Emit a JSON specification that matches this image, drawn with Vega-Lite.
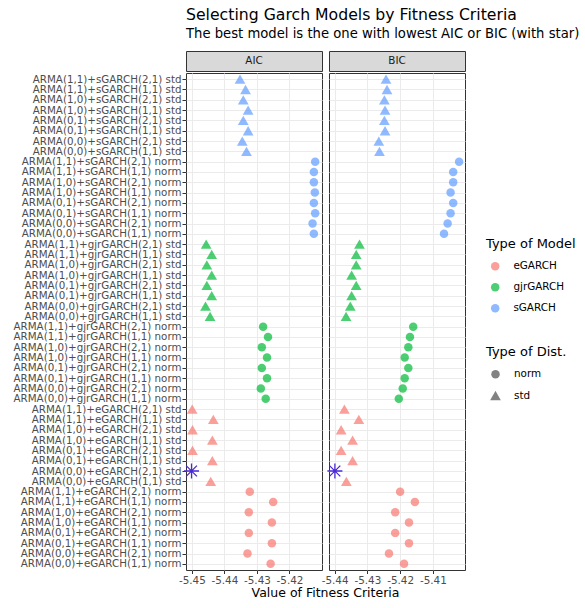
{
  "$schema": "https://vega.github.io/schema/vega-lite/v6.json",
  "padding": {"left": 12, "top": 6, "right": 5, "bottom": 5},
  "title": {
    "text": "Selecting Garch Models by Fitness Criteria",
    "subtitle": "The best model is the one with lowest AIC or BIC (with star)",
    "anchor": "start",
    "frame": "group",
    "font": "DejaVu Sans",
    "fontSize": 15.7,
    "fontWeight": "normal",
    "color": "#000000",
    "subtitleFont": "DejaVu Sans",
    "subtitleFontSize": 13.2,
    "subtitleColor": "#000000",
    "subtitlePadding": 5,
    "offset": 9
  },
  "datasets": {
    "strips": [{"c": "AIC"}, {"c": "BIC"}],
    "xtitle": [{"label": "Value of Fitness Criteria"}],
    "fit": [
      {"m": "ARMA(1,1)+sGARCH(2,1) std", "t": "sGARCH", "d": "std", "c": "AIC", "v": -5.4352},
      {"m": "ARMA(1,1)+sGARCH(1,1) std", "t": "sGARCH", "d": "std", "c": "AIC", "v": -5.4335},
      {"m": "ARMA(1,0)+sGARCH(2,1) std", "t": "sGARCH", "d": "std", "c": "AIC", "v": -5.4342},
      {"m": "ARMA(1,0)+sGARCH(1,1) std", "t": "sGARCH", "d": "std", "c": "AIC", "v": -5.4327},
      {"m": "ARMA(0,1)+sGARCH(2,1) std", "t": "sGARCH", "d": "std", "c": "AIC", "v": -5.4342},
      {"m": "ARMA(0,1)+sGARCH(1,1) std", "t": "sGARCH", "d": "std", "c": "AIC", "v": -5.4327},
      {"m": "ARMA(0,0)+sGARCH(2,1) std", "t": "sGARCH", "d": "std", "c": "AIC", "v": -5.4345},
      {"m": "ARMA(0,0)+sGARCH(1,1) std", "t": "sGARCH", "d": "std", "c": "AIC", "v": -5.4332},
      {"m": "ARMA(1,1)+sGARCH(2,1) norm", "t": "sGARCH", "d": "norm", "c": "AIC", "v": -5.4121},
      {"m": "ARMA(1,1)+sGARCH(1,1) norm", "t": "sGARCH", "d": "norm", "c": "AIC", "v": -5.4125},
      {"m": "ARMA(1,0)+sGARCH(2,1) norm", "t": "sGARCH", "d": "norm", "c": "AIC", "v": -5.4125},
      {"m": "ARMA(1,0)+sGARCH(1,1) norm", "t": "sGARCH", "d": "norm", "c": "AIC", "v": -5.4122},
      {"m": "ARMA(0,1)+sGARCH(2,1) norm", "t": "sGARCH", "d": "norm", "c": "AIC", "v": -5.4125},
      {"m": "ARMA(0,1)+sGARCH(1,1) norm", "t": "sGARCH", "d": "norm", "c": "AIC", "v": -5.4121},
      {"m": "ARMA(0,0)+sGARCH(2,1) norm", "t": "sGARCH", "d": "norm", "c": "AIC", "v": -5.4129},
      {"m": "ARMA(0,0)+sGARCH(1,1) norm", "t": "sGARCH", "d": "norm", "c": "AIC", "v": -5.4125},
      {"m": "ARMA(1,1)+gjrGARCH(2,1) std", "t": "gjrGARCH", "d": "std", "c": "AIC", "v": -5.4456},
      {"m": "ARMA(1,1)+gjrGARCH(1,1) std", "t": "gjrGARCH", "d": "std", "c": "AIC", "v": -5.4439},
      {"m": "ARMA(1,0)+gjrGARCH(2,1) std", "t": "gjrGARCH", "d": "std", "c": "AIC", "v": -5.4454},
      {"m": "ARMA(1,0)+gjrGARCH(1,1) std", "t": "gjrGARCH", "d": "std", "c": "AIC", "v": -5.4439},
      {"m": "ARMA(0,1)+gjrGARCH(2,1) std", "t": "gjrGARCH", "d": "std", "c": "AIC", "v": -5.4454},
      {"m": "ARMA(0,1)+gjrGARCH(1,1) std", "t": "gjrGARCH", "d": "std", "c": "AIC", "v": -5.4439},
      {"m": "ARMA(0,0)+gjrGARCH(2,1) std", "t": "gjrGARCH", "d": "std", "c": "AIC", "v": -5.4458},
      {"m": "ARMA(0,0)+gjrGARCH(1,1) std", "t": "gjrGARCH", "d": "std", "c": "AIC", "v": -5.4444},
      {"m": "ARMA(1,1)+gjrGARCH(2,1) norm", "t": "gjrGARCH", "d": "norm", "c": "AIC", "v": -5.4281},
      {"m": "ARMA(1,1)+gjrGARCH(1,1) norm", "t": "gjrGARCH", "d": "norm", "c": "AIC", "v": -5.4266},
      {"m": "ARMA(1,0)+gjrGARCH(2,1) norm", "t": "gjrGARCH", "d": "norm", "c": "AIC", "v": -5.4285},
      {"m": "ARMA(1,0)+gjrGARCH(1,1) norm", "t": "gjrGARCH", "d": "norm", "c": "AIC", "v": -5.4269},
      {"m": "ARMA(0,1)+gjrGARCH(2,1) norm", "t": "gjrGARCH", "d": "norm", "c": "AIC", "v": -5.4285},
      {"m": "ARMA(0,1)+gjrGARCH(1,1) norm", "t": "gjrGARCH", "d": "norm", "c": "AIC", "v": -5.4269},
      {"m": "ARMA(0,0)+gjrGARCH(2,1) norm", "t": "gjrGARCH", "d": "norm", "c": "AIC", "v": -5.4288},
      {"m": "ARMA(0,0)+gjrGARCH(1,1) norm", "t": "gjrGARCH", "d": "norm", "c": "AIC", "v": -5.4273},
      {"m": "ARMA(1,1)+eGARCH(2,1) std", "t": "eGARCH", "d": "std", "c": "AIC", "v": -5.4499},
      {"m": "ARMA(1,1)+eGARCH(1,1) std", "t": "eGARCH", "d": "std", "c": "AIC", "v": -5.4434},
      {"m": "ARMA(1,0)+eGARCH(2,1) std", "t": "eGARCH", "d": "std", "c": "AIC", "v": -5.4498},
      {"m": "ARMA(1,0)+eGARCH(1,1) std", "t": "eGARCH", "d": "std", "c": "AIC", "v": -5.4437},
      {"m": "ARMA(0,1)+eGARCH(2,1) std", "t": "eGARCH", "d": "std", "c": "AIC", "v": -5.4498},
      {"m": "ARMA(0,1)+eGARCH(1,1) std", "t": "eGARCH", "d": "std", "c": "AIC", "v": -5.4437},
      {"m": "ARMA(0,0)+eGARCH(2,1) std", "t": "eGARCH", "d": "std", "c": "AIC", "v": -5.4501, "b": 1},
      {"m": "ARMA(0,0)+eGARCH(1,1) std", "t": "eGARCH", "d": "std", "c": "AIC", "v": -5.4442},
      {"m": "ARMA(1,1)+eGARCH(2,1) norm", "t": "eGARCH", "d": "norm", "c": "AIC", "v": -5.4322},
      {"m": "ARMA(1,1)+eGARCH(1,1) norm", "t": "eGARCH", "d": "norm", "c": "AIC", "v": -5.4250},
      {"m": "ARMA(1,0)+eGARCH(2,1) norm", "t": "eGARCH", "d": "norm", "c": "AIC", "v": -5.4325},
      {"m": "ARMA(1,0)+eGARCH(1,1) norm", "t": "eGARCH", "d": "norm", "c": "AIC", "v": -5.4254},
      {"m": "ARMA(0,1)+eGARCH(2,1) norm", "t": "eGARCH", "d": "norm", "c": "AIC", "v": -5.4325},
      {"m": "ARMA(0,1)+eGARCH(1,1) norm", "t": "eGARCH", "d": "norm", "c": "AIC", "v": -5.4254},
      {"m": "ARMA(0,0)+eGARCH(2,1) norm", "t": "eGARCH", "d": "norm", "c": "AIC", "v": -5.4329},
      {"m": "ARMA(0,0)+eGARCH(1,1) norm", "t": "eGARCH", "d": "norm", "c": "AIC", "v": -5.4258},
      {"m": "ARMA(1,1)+sGARCH(2,1) std", "t": "sGARCH", "d": "std", "c": "BIC", "v": -5.4243},
      {"m": "ARMA(1,1)+sGARCH(1,1) std", "t": "sGARCH", "d": "std", "c": "BIC", "v": -5.4240},
      {"m": "ARMA(1,0)+sGARCH(2,1) std", "t": "sGARCH", "d": "std", "c": "BIC", "v": -5.4248},
      {"m": "ARMA(1,0)+sGARCH(1,1) std", "t": "sGARCH", "d": "std", "c": "BIC", "v": -5.4246},
      {"m": "ARMA(0,1)+sGARCH(2,1) std", "t": "sGARCH", "d": "std", "c": "BIC", "v": -5.4248},
      {"m": "ARMA(0,1)+sGARCH(1,1) std", "t": "sGARCH", "d": "std", "c": "BIC", "v": -5.4246},
      {"m": "ARMA(0,0)+sGARCH(2,1) std", "t": "sGARCH", "d": "std", "c": "BIC", "v": -5.4265},
      {"m": "ARMA(0,0)+sGARCH(1,1) std", "t": "sGARCH", "d": "std", "c": "BIC", "v": -5.4263},
      {"m": "ARMA(1,1)+sGARCH(2,1) norm", "t": "sGARCH", "d": "norm", "c": "BIC", "v": -5.4020},
      {"m": "ARMA(1,1)+sGARCH(1,1) norm", "t": "sGARCH", "d": "norm", "c": "BIC", "v": -5.4038},
      {"m": "ARMA(1,0)+sGARCH(2,1) norm", "t": "sGARCH", "d": "norm", "c": "BIC", "v": -5.4038},
      {"m": "ARMA(1,0)+sGARCH(1,1) norm", "t": "sGARCH", "d": "norm", "c": "BIC", "v": -5.4046},
      {"m": "ARMA(0,1)+sGARCH(2,1) norm", "t": "sGARCH", "d": "norm", "c": "BIC", "v": -5.4038},
      {"m": "ARMA(0,1)+sGARCH(1,1) norm", "t": "sGARCH", "d": "norm", "c": "BIC", "v": -5.4046},
      {"m": "ARMA(0,0)+sGARCH(2,1) norm", "t": "sGARCH", "d": "norm", "c": "BIC", "v": -5.4055},
      {"m": "ARMA(0,0)+sGARCH(1,1) norm", "t": "sGARCH", "d": "norm", "c": "BIC", "v": -5.4066},
      {"m": "ARMA(1,1)+gjrGARCH(2,1) std", "t": "gjrGARCH", "d": "std", "c": "BIC", "v": -5.4324},
      {"m": "ARMA(1,1)+gjrGARCH(1,1) std", "t": "gjrGARCH", "d": "std", "c": "BIC", "v": -5.4334},
      {"m": "ARMA(1,0)+gjrGARCH(2,1) std", "t": "gjrGARCH", "d": "std", "c": "BIC", "v": -5.4334},
      {"m": "ARMA(1,0)+gjrGARCH(1,1) std", "t": "gjrGARCH", "d": "std", "c": "BIC", "v": -5.4348},
      {"m": "ARMA(0,1)+gjrGARCH(2,1) std", "t": "gjrGARCH", "d": "std", "c": "BIC", "v": -5.4334},
      {"m": "ARMA(0,1)+gjrGARCH(1,1) std", "t": "gjrGARCH", "d": "std", "c": "BIC", "v": -5.4348},
      {"m": "ARMA(0,0)+gjrGARCH(2,1) std", "t": "gjrGARCH", "d": "std", "c": "BIC", "v": -5.4352},
      {"m": "ARMA(0,0)+gjrGARCH(1,1) std", "t": "gjrGARCH", "d": "std", "c": "BIC", "v": -5.4365},
      {"m": "ARMA(1,1)+gjrGARCH(2,1) norm", "t": "gjrGARCH", "d": "norm", "c": "BIC", "v": -5.4160},
      {"m": "ARMA(1,1)+gjrGARCH(1,1) norm", "t": "gjrGARCH", "d": "norm", "c": "BIC", "v": -5.4170},
      {"m": "ARMA(1,0)+gjrGARCH(2,1) norm", "t": "gjrGARCH", "d": "norm", "c": "BIC", "v": -5.4175},
      {"m": "ARMA(1,0)+gjrGARCH(1,1) norm", "t": "gjrGARCH", "d": "norm", "c": "BIC", "v": -5.4186},
      {"m": "ARMA(0,1)+gjrGARCH(2,1) norm", "t": "gjrGARCH", "d": "norm", "c": "BIC", "v": -5.4175},
      {"m": "ARMA(0,1)+gjrGARCH(1,1) norm", "t": "gjrGARCH", "d": "norm", "c": "BIC", "v": -5.4186},
      {"m": "ARMA(0,0)+gjrGARCH(2,1) norm", "t": "gjrGARCH", "d": "norm", "c": "BIC", "v": -5.4192},
      {"m": "ARMA(0,0)+gjrGARCH(1,1) norm", "t": "gjrGARCH", "d": "norm", "c": "BIC", "v": -5.4204},
      {"m": "ARMA(1,1)+eGARCH(2,1) std", "t": "eGARCH", "d": "std", "c": "BIC", "v": -5.4370},
      {"m": "ARMA(1,1)+eGARCH(1,1) std", "t": "eGARCH", "d": "std", "c": "BIC", "v": -5.4326},
      {"m": "ARMA(1,0)+eGARCH(2,1) std", "t": "eGARCH", "d": "std", "c": "BIC", "v": -5.4380},
      {"m": "ARMA(1,0)+eGARCH(1,1) std", "t": "eGARCH", "d": "std", "c": "BIC", "v": -5.4345},
      {"m": "ARMA(0,1)+eGARCH(2,1) std", "t": "eGARCH", "d": "std", "c": "BIC", "v": -5.4380},
      {"m": "ARMA(0,1)+eGARCH(1,1) std", "t": "eGARCH", "d": "std", "c": "BIC", "v": -5.4345},
      {"m": "ARMA(0,0)+eGARCH(2,1) std", "t": "eGARCH", "d": "std", "c": "BIC", "v": -5.4399, "b": 1},
      {"m": "ARMA(0,0)+eGARCH(1,1) std", "t": "eGARCH", "d": "std", "c": "BIC", "v": -5.4364},
      {"m": "ARMA(1,1)+eGARCH(2,1) norm", "t": "eGARCH", "d": "norm", "c": "BIC", "v": -5.4200},
      {"m": "ARMA(1,1)+eGARCH(1,1) norm", "t": "eGARCH", "d": "norm", "c": "BIC", "v": -5.4155},
      {"m": "ARMA(1,0)+eGARCH(2,1) norm", "t": "eGARCH", "d": "norm", "c": "BIC", "v": -5.4215},
      {"m": "ARMA(1,0)+eGARCH(1,1) norm", "t": "eGARCH", "d": "norm", "c": "BIC", "v": -5.4173},
      {"m": "ARMA(0,1)+eGARCH(2,1) norm", "t": "eGARCH", "d": "norm", "c": "BIC", "v": -5.4215},
      {"m": "ARMA(0,1)+eGARCH(1,1) norm", "t": "eGARCH", "d": "norm", "c": "BIC", "v": -5.4173},
      {"m": "ARMA(0,0)+eGARCH(2,1) norm", "t": "eGARCH", "d": "norm", "c": "BIC", "v": -5.4234},
      {"m": "ARMA(0,0)+eGARCH(1,1) norm", "t": "eGARCH", "d": "norm", "c": "BIC", "v": -5.4188}
    ]
  },
  "spacing": 0,
  "vconcat": [
    {
      "spacing": -3,
      "resolve": {"scale": {"x": "independent", "y": "shared", "color": "shared", "shape": "shared", "size": "shared"}},
      "hconcat": [
        {
          "spacing": 0,
          "vconcat": [
            {
              "data": {"name": "strips"},
              "transform": [{"filter": "datum.c == 'AIC'"}],
              "width": 136,
              "height": 20,
              "view": {"fill": "#D9D9D9", "stroke": "#333333"},
              "mark": {"type": "text", "font": "DejaVu Sans", "fontSize": 10.4, "color": "#1A1A1A", "baseline": "middle"},
              "encoding": {"text": {"field": "c"}}
            },
            {
              "data": {"name": "fit"},
              "transform": [{"filter": "datum.c == 'AIC'"}],
              "width": 136,
              "height": 497,
              "layer": [
                {
                  "transform": [{"filter": "!datum.b"}],
                  "mark": {"type": "point", "filled": true, "opacity": 0.7, "strokeWidth": 0},
                  "encoding": {
                    "x": {
                      "field": "v", "type": "quantitative",
                      "scale": {"domain": [-5.4518, -5.41], "nice": false, "zero": false},
                      "axis": {
                        "values": [-5.45, -5.445, -5.44, -5.435, -5.43, -5.425, -5.42, -5.415],
                        "labelExpr": "abs(datum.value*100 - round(datum.value*100)) > 0.1 ? '' : '' + datum.value",
                        "tickOpacity": {"condition": {"test": "abs(datum.value*100 - round(datum.value*100)) > 0.1", "value": 0}, "value": 1},
                        "gridWidth": {"condition": {"test": "abs(datum.value*100 - round(datum.value*100)) > 0.1", "value": 0.5}, "value": 1},
                        "title": null
                      }
                    },
                    "y": {
                      "field": "m", "type": "nominal",
                      "scale": {"type": "point", "padding": 0.6, "domain": [
                        "ARMA(1,1)+sGARCH(2,1) std", "ARMA(1,1)+sGARCH(1,1) std", "ARMA(1,0)+sGARCH(2,1) std", "ARMA(1,0)+sGARCH(1,1) std", "ARMA(0,1)+sGARCH(2,1) std", "ARMA(0,1)+sGARCH(1,1) std", "ARMA(0,0)+sGARCH(2,1) std", "ARMA(0,0)+sGARCH(1,1) std",
                        "ARMA(1,1)+sGARCH(2,1) norm", "ARMA(1,1)+sGARCH(1,1) norm", "ARMA(1,0)+sGARCH(2,1) norm", "ARMA(1,0)+sGARCH(1,1) norm", "ARMA(0,1)+sGARCH(2,1) norm", "ARMA(0,1)+sGARCH(1,1) norm", "ARMA(0,0)+sGARCH(2,1) norm", "ARMA(0,0)+sGARCH(1,1) norm",
                        "ARMA(1,1)+gjrGARCH(2,1) std", "ARMA(1,1)+gjrGARCH(1,1) std", "ARMA(1,0)+gjrGARCH(2,1) std", "ARMA(1,0)+gjrGARCH(1,1) std", "ARMA(0,1)+gjrGARCH(2,1) std", "ARMA(0,1)+gjrGARCH(1,1) std", "ARMA(0,0)+gjrGARCH(2,1) std", "ARMA(0,0)+gjrGARCH(1,1) std",
                        "ARMA(1,1)+gjrGARCH(2,1) norm", "ARMA(1,1)+gjrGARCH(1,1) norm", "ARMA(1,0)+gjrGARCH(2,1) norm", "ARMA(1,0)+gjrGARCH(1,1) norm", "ARMA(0,1)+gjrGARCH(2,1) norm", "ARMA(0,1)+gjrGARCH(1,1) norm", "ARMA(0,0)+gjrGARCH(2,1) norm", "ARMA(0,0)+gjrGARCH(1,1) norm",
                        "ARMA(1,1)+eGARCH(2,1) std", "ARMA(1,1)+eGARCH(1,1) std", "ARMA(1,0)+eGARCH(2,1) std", "ARMA(1,0)+eGARCH(1,1) std", "ARMA(0,1)+eGARCH(2,1) std", "ARMA(0,1)+eGARCH(1,1) std", "ARMA(0,0)+eGARCH(2,1) std", "ARMA(0,0)+eGARCH(1,1) std",
                        "ARMA(1,1)+eGARCH(2,1) norm", "ARMA(1,1)+eGARCH(1,1) norm", "ARMA(1,0)+eGARCH(2,1) norm", "ARMA(1,0)+eGARCH(1,1) norm", "ARMA(0,1)+eGARCH(2,1) norm", "ARMA(0,1)+eGARCH(1,1) norm", "ARMA(0,0)+eGARCH(2,1) norm", "ARMA(0,0)+eGARCH(1,1) norm"
                      ]},
                      "axis": {"title": null, "labelPadding": 1, "labelFontSize": 10.3, "tickSize": 4}
                    },
                    "color": {
                      "field": "t", "type": "nominal",
                      "scale": {"domain": ["eGARCH", "gjrGARCH", "sGARCH"], "range": ["#F8766D", "#00BA38", "#619CFF"]},
                      "legend": {"title": "Type of Model", "orient": "none", "legendX": 300, "legendY": 187, "symbolType": "circle", "symbolSize": 72, "symbolOpacity": 0.7, "symbolOffset": 4, "labelOffset": 13, "titlePadding": 10, "rowPadding": 10}
                    },
                    "shape": {
                      "field": "d", "type": "nominal",
                      "scale": {"domain": ["norm", "std"], "range": ["circle", "triangle-up"]},
                      "legend": {"title": "Type of Dist.", "orient": "none", "legendX": 300, "legendY": 295, "symbolFillColor": "#000000", "symbolOpacity": 0.7, "symbolStrokeWidth": 0, "symbolOffset": 4, "labelOffset": 13, "titlePadding": 10, "rowPadding": 10}
                    },
                    "size": {
                      "field": "d", "type": "nominal",
                      "scale": {"domain": ["norm", "std"], "range": [72, 115]},
                      "legend": {"title": "Type of Dist.", "orient": "none", "legendX": 300, "legendY": 295, "symbolFillColor": "#000000", "symbolOpacity": 0.7, "symbolStrokeWidth": 0, "symbolOffset": 4, "labelOffset": 13, "titlePadding": 10, "rowPadding": 10}
                    }
                  }
                },
                {
                  "transform": [{"filter": "datum.b == 1"}],
                  "mark": {"type": "point", "shape": "M-1,0L1,0M0,-1L0,1M-0.72,-0.72L0.72,0.72M-0.72,0.72L0.72,-0.72", "filled": false, "size": 225, "stroke": "#4A2AD4", "strokeWidth": 1.3, "opacity": 1},
                  "encoding": {
                    "x": {"field": "v", "type": "quantitative"},
                    "y": {"field": "m", "type": "nominal"}
                  }
                }
              ]
            }
          ]
        },
        {
          "spacing": 0,
          "vconcat": [
            {
              "data": {"name": "strips"},
              "transform": [{"filter": "datum.c == 'BIC'"}],
              "width": 136,
              "height": 20,
              "view": {"fill": "#D9D9D9", "stroke": "#333333"},
              "mark": {"type": "text", "font": "DejaVu Sans", "fontSize": 10.4, "color": "#1A1A1A", "baseline": "middle"},
              "encoding": {"text": {"field": "c"}}
            },
            {
              "data": {"name": "fit"},
              "transform": [{"filter": "datum.c == 'BIC'"}],
              "width": 136,
              "height": 497,
              "layer": [
                {
                  "transform": [{"filter": "!datum.b"}],
                  "mark": {"type": "point", "filled": true, "opacity": 0.7, "strokeWidth": 0},
                  "encoding": {
                    "x": {
                      "field": "v", "type": "quantitative",
                      "scale": {"domain": [-5.4417, -5.4002], "nice": false, "zero": false},
                      "axis": {
                        "values": [-5.44, -5.435, -5.43, -5.425, -5.42, -5.415, -5.41, -5.405],
                        "labelExpr": "abs(datum.value*100 - round(datum.value*100)) > 0.1 ? '' : '' + datum.value",
                        "tickOpacity": {"condition": {"test": "abs(datum.value*100 - round(datum.value*100)) > 0.1", "value": 0}, "value": 1},
                        "gridWidth": {"condition": {"test": "abs(datum.value*100 - round(datum.value*100)) > 0.1", "value": 0.5}, "value": 1},
                        "title": null
                      }
                    },
                    "y": {
                      "field": "m", "type": "nominal",
                      "scale": {"type": "point", "padding": 0.6, "domain": [
                        "ARMA(1,1)+sGARCH(2,1) std", "ARMA(1,1)+sGARCH(1,1) std", "ARMA(1,0)+sGARCH(2,1) std", "ARMA(1,0)+sGARCH(1,1) std", "ARMA(0,1)+sGARCH(2,1) std", "ARMA(0,1)+sGARCH(1,1) std", "ARMA(0,0)+sGARCH(2,1) std", "ARMA(0,0)+sGARCH(1,1) std",
                        "ARMA(1,1)+sGARCH(2,1) norm", "ARMA(1,1)+sGARCH(1,1) norm", "ARMA(1,0)+sGARCH(2,1) norm", "ARMA(1,0)+sGARCH(1,1) norm", "ARMA(0,1)+sGARCH(2,1) norm", "ARMA(0,1)+sGARCH(1,1) norm", "ARMA(0,0)+sGARCH(2,1) norm", "ARMA(0,0)+sGARCH(1,1) norm",
                        "ARMA(1,1)+gjrGARCH(2,1) std", "ARMA(1,1)+gjrGARCH(1,1) std", "ARMA(1,0)+gjrGARCH(2,1) std", "ARMA(1,0)+gjrGARCH(1,1) std", "ARMA(0,1)+gjrGARCH(2,1) std", "ARMA(0,1)+gjrGARCH(1,1) std", "ARMA(0,0)+gjrGARCH(2,1) std", "ARMA(0,0)+gjrGARCH(1,1) std",
                        "ARMA(1,1)+gjrGARCH(2,1) norm", "ARMA(1,1)+gjrGARCH(1,1) norm", "ARMA(1,0)+gjrGARCH(2,1) norm", "ARMA(1,0)+gjrGARCH(1,1) norm", "ARMA(0,1)+gjrGARCH(2,1) norm", "ARMA(0,1)+gjrGARCH(1,1) norm", "ARMA(0,0)+gjrGARCH(2,1) norm", "ARMA(0,0)+gjrGARCH(1,1) norm",
                        "ARMA(1,1)+eGARCH(2,1) std", "ARMA(1,1)+eGARCH(1,1) std", "ARMA(1,0)+eGARCH(2,1) std", "ARMA(1,0)+eGARCH(1,1) std", "ARMA(0,1)+eGARCH(2,1) std", "ARMA(0,1)+eGARCH(1,1) std", "ARMA(0,0)+eGARCH(2,1) std", "ARMA(0,0)+eGARCH(1,1) std",
                        "ARMA(1,1)+eGARCH(2,1) norm", "ARMA(1,1)+eGARCH(1,1) norm", "ARMA(1,0)+eGARCH(2,1) norm", "ARMA(1,0)+eGARCH(1,1) norm", "ARMA(0,1)+eGARCH(2,1) norm", "ARMA(0,1)+eGARCH(1,1) norm", "ARMA(0,0)+eGARCH(2,1) norm", "ARMA(0,0)+eGARCH(1,1) norm"
                      ]},
                      "axis": {"title": null, "labels": false, "ticks": false, "minExtent": 0, "maxExtent": 0}
                    },
                    "color": {"field": "t", "type": "nominal"},
                    "shape": {"field": "d", "type": "nominal"},
                    "size": {"field": "d", "type": "nominal"}
                  }
                },
                {
                  "transform": [{"filter": "datum.b == 1"}],
                  "mark": {"type": "point", "shape": "M-1,0L1,0M0,-1L0,1M-0.72,-0.72L0.72,0.72M-0.72,0.72L0.72,-0.72", "filled": false, "size": 225, "stroke": "#4A2AD4", "strokeWidth": 1.3, "opacity": 1},
                  "encoding": {
                    "x": {"field": "v", "type": "quantitative"},
                    "y": {"field": "m", "type": "nominal"}
                  }
                }
              ]
            }
          ]
        }
      ]
    },
    {
      "data": {"name": "xtitle"},
      "width": 279,
      "height": 10,
      "view": {"stroke": null},
      "mark": {"type": "text", "font": "DejaVu Sans", "fontSize": 12.5, "color": "#000000", "baseline": "middle"},
      "encoding": {"text": {"field": "label"}}
    }
  ],
  "config": {
    "font": "DejaVu Sans",
    "background": "white",
    "view": {"stroke": "#333333", "strokeWidth": 1},
    "axis": {
      "labelFont": "DejaVu Sans",
      "labelFontSize": 10.4,
      "labelColor": "#4D4D4D",
      "tickColor": "#333333",
      "tickSize": 3.5,
      "domain": false,
      "grid": true,
      "gridColor": "#EBEBEB",
      "titleFont": "DejaVu Sans",
      "titleFontSize": 12.5,
      "titleFontWeight": "normal",
      "titleColor": "#000000"
    },
    "legend": {
      "titleFont": "DejaVu Sans",
      "titleFontSize": 13,
      "titleFontWeight": "normal",
      "titleColor": "#000000",
      "labelFont": "DejaVu Sans",
      "labelFontSize": 10.4,
      "labelColor": "#000000",
      "padding": 0
    }
  }
}
